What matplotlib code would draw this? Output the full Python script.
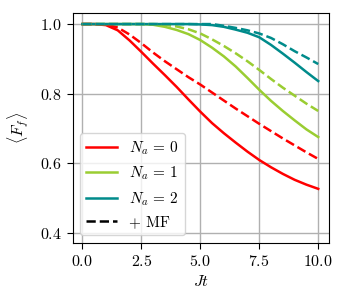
import matplotlib
matplotlib.use("Agg")
import matplotlib.pyplot as plt

plt.rcParams['font.family'] = 'serif'
plt.rcParams['font.serif'] = ['cmr10']
plt.rcParams['mathtext.fontset'] = 'cm'
plt.rcParams['axes.formatter.use_mathtext'] = True

# tiempo Jt y fidelidad media
jt = [0.0, 0.5, 1.0, 1.5, 2.0, 2.5, 3.0, 3.5, 4.0, 4.5, 5.0,
      5.5, 6.0, 6.5, 7.0, 7.5, 8.0, 8.5, 9.0, 9.5, 10.0]

f_na0 = [1.0, 1.0, 0.997, 0.982, 0.953, 0.92, 0.886, 0.853, 0.819, 0.783, 0.748,
         0.715, 0.686, 0.659, 0.633, 0.609, 0.588, 0.569, 0.552, 0.538, 0.526]
f_na0_mf = [1.0, 1.0, 0.999, 0.99, 0.97, 0.945, 0.918, 0.893, 0.87, 0.847, 0.826,
            0.803, 0.78, 0.757, 0.735, 0.713, 0.692, 0.671, 0.651, 0.631, 0.612]
f_na1 = [1.0, 1.0, 1.0, 1.0, 1.0, 1.0, 0.998, 0.992, 0.983, 0.971, 0.954,
         0.932, 0.907, 0.878, 0.845, 0.811, 0.779, 0.75, 0.723, 0.697, 0.675]
f_na1_mf = [1.0, 1.0, 1.0, 1.0, 1.0, 1.0, 1.0, 0.998, 0.993, 0.985, 0.973,
            0.956, 0.937, 0.916, 0.893, 0.868, 0.842, 0.817, 0.794, 0.771, 0.75]
f_na2 = [1.0, 1.0, 1.0, 1.0, 1.0, 1.0, 1.0, 1.0, 1.0, 1.0, 0.999,
         0.997, 0.992, 0.984, 0.975, 0.962, 0.94, 0.915, 0.889, 0.862, 0.836]
f_na2_mf = [1.0, 1.0, 1.0, 1.0, 1.0, 1.0, 1.0, 1.0, 1.0, 1.0, 1.0,
            1.0, 0.995, 0.989, 0.982, 0.973, 0.96, 0.942, 0.922, 0.904, 0.885]

fig = plt.figure(figsize=(3.47, 3.07), dpi=100)
ax = fig.add_axes([0.2095, 0.2094, 0.7395, 0.7473])

lw = 1.8
ax.plot(jt, f_na0, color='red', lw=lw, label=r'$N_a \,=\, 0$')
ax.plot(jt, f_na1, color='yellowgreen', lw=lw, label=r'$N_a \,=\, 1$')
ax.plot(jt, f_na2, color='darkcyan', lw=lw, label=r'$N_a \,=\, 2$')
ax.plot(jt, f_na0_mf, color='red', lw=lw, ls='--')
ax.plot(jt, f_na1_mf, color='yellowgreen', lw=lw, ls='--')
ax.plot(jt, f_na2_mf, color='darkcyan', lw=lw, ls='--')
ax.plot([], [], color='black', lw=lw, ls='--', label='+ MF')

ax.set_xlim(-0.41, 10.47)
ax.set_ylim(0.371, 1.031)
ax.set_xticks([0, 2.5, 5, 7.5, 10])
ax.set_yticks([0.4, 0.6, 0.8, 1.0])
ax.grid(True, color='#b0b0b0', lw=1.0)
ax.tick_params(labelsize=11.5, length=4.5)

ax.set_xlabel(r'$Jt$', fontsize=11.5)
ax.set_ylabel(r'$\langle F_f \rangle$', fontsize=11.5, labelpad=6)
ax.legend(loc='lower left', fontsize=11)

fig.savefig('out.png', dpi=100)
